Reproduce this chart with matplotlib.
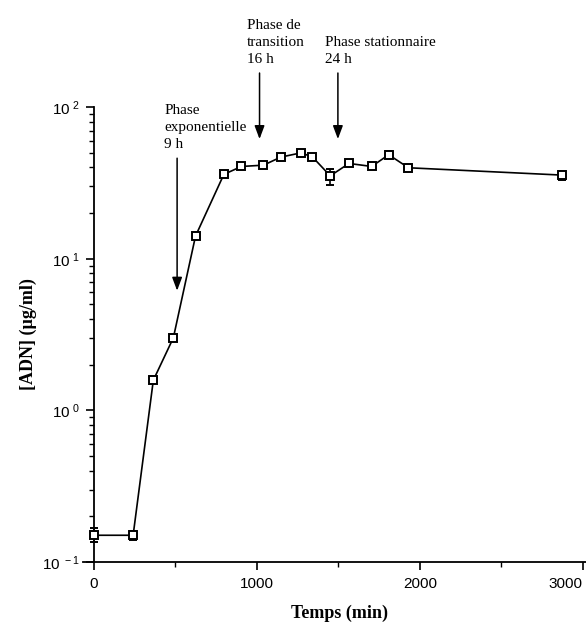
import matplotlib
matplotlib.use("Agg")
import matplotlib.pyplot as plt
from matplotlib.ticker import LogLocator, FixedLocator, NullFormatter

# Data
temps_min = [0, 240, 364, 487, 623, 797, 905, 1040, 1147, 1270, 1340, 1450, 1565, 1704, 1809, 1930, 2874]
adn_ug_ml = [0.150, 0.150, 1.58, 3.01, 14.1, 36.0, 40.6, 41.4, 46.8, 49.9, 47.0, 35.2, 42.5, 40.6, 48.5, 39.8, 35.6]
err_low = [0.014, 0.010, 0.0, 0.0, 0.0, 0.0, 0.0, 0.0, 0.0, 0.0, 0.0, 4.5, 0.0, 0.0, 2.5, 0.0, 2.5]
err_high = [0.018, 0.010, 0.0, 0.0, 0.0, 0.0, 0.0, 0.0, 0.0, 0.0, 0.0, 4.0, 0.0, 0.0, 3.0, 0.0, 2.5]

arrow_labels = ["Phase\nexponentielle\n9 h", "Phase de\ntransition\n16 h", "Phase stationnaire\n24 h"]
arrow_x = [510, 1016, 1497]
arrow_tip_y = [5.9, 59.0, 59.0]
arrow_top_y = [48.0, 175.0, 175.0]

x_ticks = [0, 1000, 2000, 3000]
x_minor = [500, 1500, 2500]
y_ticks = [0.1, 1, 10, 100]
y_ticklabels = [r"$\mathregular{10^{\ -1}}$", r"$\mathregular{10^{\ 0}}$",
                r"$\mathregular{10^{\ 1}}$", r"$\mathregular{10^{\ 2}}$"]

fig = plt.figure(figsize=(5.86, 6.30), dpi=100)
ax = fig.add_axes([0.141, 0.108, 0.859, 0.722])

ax.errorbar(temps_min, adn_ug_ml, yerr=[err_low, err_high], color="black",
            lw=1.2, marker="s", ms=5.5, mfc="white", mec="black", mew=1.4,
            ecolor="black", elinewidth=1.2, capsize=3, capthick=1.2, zorder=3)

ax.set_yscale("log")
ax.set_xlim(-70, 3020)
ax.set_ylim(0.1, 100)

ax.spines["left"].set_position(("data", 0))
ax.spines["top"].set_visible(False)
ax.spines["right"].set_visible(False)
ax.spines["left"].set_linewidth(1.3)
ax.spines["bottom"].set_linewidth(1.3)

ax.xaxis.set_major_locator(FixedLocator(x_ticks))
ax.xaxis.set_minor_locator(FixedLocator(x_minor))
ax.set_xticklabels([str(t) for t in x_ticks], family="Liberation Sans", fontsize=11)
ax.get_xticklabels()[-1].set_horizontalalignment("right")
ax.yaxis.set_major_locator(FixedLocator(y_ticks))
ax.set_yticklabels(y_ticklabels, family="Liberation Sans", fontsize=11)
ax.yaxis.set_minor_locator(LogLocator(base=10, subs=range(2, 10)))
ax.yaxis.set_minor_formatter(NullFormatter())

ax.tick_params(axis="both", which="major", direction="out", length=6, width=1.2, colors="black")
ax.tick_params(axis="both", which="minor", direction="out", length=3.5, width=1.0)
ax.tick_params(axis="x", which="major", pad=5)
ax.tick_params(axis="y", which="major", pad=4)

ax.set_xlabel("Temps (min)", family="Liberation Serif", fontweight="bold", fontsize=13)
ax.xaxis.set_label_coords(0.51, -0.095)
ax.set_ylabel("[ADN] (µg/ml)", family="Liberation Serif", fontweight="bold", fontsize=13)
ax.yaxis.set_label_coords(-0.09, 0.5)

for lab, xv, ytip, ytop in zip(arrow_labels, arrow_x, arrow_tip_y, arrow_top_y):
    ax.annotate("", xy=(xv, ytip), xytext=(xv, ytop),
                arrowprops=dict(arrowstyle="-|>,head_length=0.8,head_width=0.3",
                                color="black", lw=1.1),
                annotation_clip=False)
    ax.text(xv - 80, ytop * 1.07, lab, family="Liberation Serif", fontsize=11,
            ha="left", va="bottom", linespacing=1.4, clip_on=False)

fig.savefig("out.png", dpi=100)
